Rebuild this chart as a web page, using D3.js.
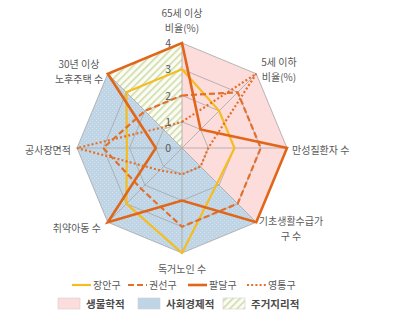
<!DOCTYPE html>
<html><head><meta charset="utf-8">
<script src="https://cdn.jsdelivr.net/npm/d3@7"></script>
<style>
html,body{margin:0;padding:0;background:#fff;}
svg{display:block;font-family:"Noto Sans CJK KR","Noto Sans",sans-serif;}
</style></head>
<body>
<svg id="chart" width="395" height="324"></svg>
<script>
const axes = [["65세 이상","비율(%)"],["5세 이하","비율(%)"],["만성질환자 수"],["기초생활수급가","구 수"],["독거노인 수"],["취약아동 수"],["공사장면적"],["30년 이상","노후주택 수"]];
const seriesNames = ["장안구","권선구","팔달구","영통구"];
const jangan  = [3, 2, 2, 1.9, 4, 3, 2.1, 3];
const gwonseon = [2, 3, 3, 3, 3, 2.2, 3, 2];
const paldal  = [4, 1, 4, 4, 2, 4, 1, 4];
const yeongtong = [1, 4, 1, 1, 1, 1.2, 4, 1.1];
const seriesValues = [jangan, gwonseon, paldal, yeongtong];
const ticks = [0,1,2,3,4];
const zoneNames = ["생물학적","사회경제적","주거지리적"];
const zoneAxes = [[0,1,2,3],[3,4,5,6,7],[7,0]];

const svg = d3.select("#chart");
const cx = 182, cy = 148, R = 105;
const r = d3.scaleLinear().domain([0,4]).range([0,R]);
const ang = d3.scaleLinear().domain([0,axes.length]).range([0,2*Math.PI]);
const pt = (i,v) => [cx + r(v)*Math.sin(ang(i)), cy - r(v)*Math.cos(ang(i))];

const defs = svg.append("defs");
const dots = defs.append("pattern").attr("id","dots").attr("patternUnits","userSpaceOnUse").attr("width",4).attr("height",4);
dots.append("rect").attr("width",4).attr("height",4).attr("fill","#bfd5e5");
dots.append("rect").attr("x",0).attr("y",0).attr("width",1).attr("height",1).attr("fill","#d3e3ee");
dots.append("rect").attr("x",2).attr("y",2).attr("width",1).attr("height",1).attr("fill","#d3e3ee");
const hatch = defs.append("pattern").attr("id","hatch").attr("patternUnits","userSpaceOnUse").attr("width",5).attr("height",5).attr("patternTransform","rotate(45)");
hatch.append("rect").attr("width",5).attr("height",5).attr("fill","#fbfcf4");
hatch.append("rect").attr("x",0).attr("y",0).attr("width",1.6).attr("height",5).attr("fill","#cfdcab");

const zoneFill = ["#fddcdc","url(#dots)","url(#hatch)"];
const legendFill = ["#fddcdc","#bfd5e5","url(#hatch)"];

zoneAxes.forEach((ax,k)=>{
  const pts = [[cx,cy]].concat(ax.map(i=>pt(i,4)));
  svg.append("polygon").attr("points",pts.map(p=>p.join(",")).join(" ")).attr("fill",zoneFill[k]).attr("stroke","none");
});

const line = d3.line();
ticks.slice(1).forEach(t=>{
  const pts = axes.map((a,i)=>pt(i,t));
  svg.append("path").attr("d",line(pts)+"Z").attr("fill","none").attr("stroke","#a6a6a6").attr("stroke-width",0.8);
});
axes.forEach((a,i)=>{
  const p = pt(i,4);
  svg.append("line").attr("x1",cx).attr("y1",cy).attr("x2",p[0]).attr("y2",p[1]).attr("stroke","#a6a6a6").attr("stroke-width",0.8);
});

const colors = ["#f5bd1f","#e3702a","#e0661a","#e3702a"];
const widths = [2.2,2.2,2.6,2.2];
const dashes = [null,"6,3",null,"2,2.2"];
seriesValues.forEach((vals,s)=>{
  const pts = vals.map((v,i)=>pt(i,v));
  svg.append("path").attr("d",line(pts)+"Z").attr("fill","none")
    .attr("stroke",colors[s]).attr("stroke-width",widths[s])
    .attr("stroke-dasharray",dashes[s]).attr("stroke-linejoin","miter");
});

ticks.forEach(t=>{
  svg.append("text").attr("x",cx-11).attr("y",cy - r(t)+4).attr("text-anchor","end")
    .attr("font-size",10.5).attr("fill","#595959").text(t);
});

const labelPos = [
  {x:182,y:17,a:"middle"},
  {x:279,y:66,a:"middle"},
  {x:292,y:154,a:"start"},
  {x:291,y:225,a:"middle"},
  {x:182,y:273,a:"middle"},
  {x:101,y:232,a:"end"},
  {x:71,y:154,a:"end"},
  {x:79,y:68,a:"middle"}
];
axes.forEach((lab,i)=>{
  const lp = labelPos[i];
  const t = svg.append("text").attr("text-anchor",lp.a).attr("font-size",10).attr("fill","#595959");
  lab.forEach((s,j)=>{
    t.append("tspan").attr("x",lp.x).attr("y",lp.y + j*15).text(s);
  });
});

const lx = [72,128,188,247];
seriesNames.forEach((n,s)=>{
  svg.append("line").attr("x1",lx[s]).attr("x2",lx[s]+19).attr("y1",285).attr("y2",285)
    .attr("stroke",colors[s]).attr("stroke-width",widths[s]).attr("stroke-dasharray",dashes[s]);
  svg.append("text").attr("x",lx[s]+21).attr("y",289).attr("font-size",10).attr("fill","#595959").text(n);
});
const zx = [58,138,223];
zoneNames.forEach((n,k)=>{
  svg.append("rect").attr("x",zx[k]).attr("y",298).attr("width",22).attr("height",11)
    .attr("fill",legendFill[k]).attr("stroke","#d0d0d0").attr("stroke-width",0.6);
  svg.append("text").attr("x",zx[k]+28).attr("y",308).attr("font-size",10.5).attr("font-weight","bold").attr("fill","#4a4a4a").text(n);
});
</script>
</body></html>
